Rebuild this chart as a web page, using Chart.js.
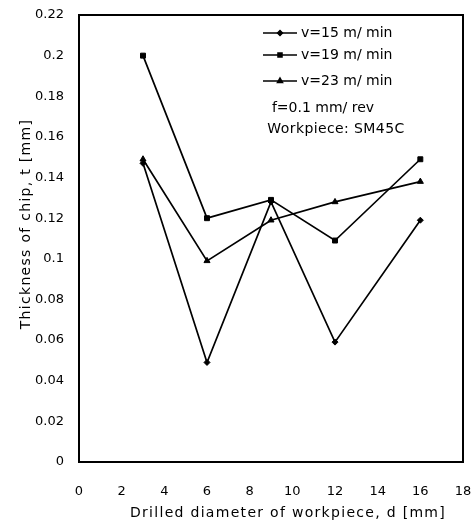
<!DOCTYPE html>
<html>
<head>
<meta charset="utf-8">
<script src="https://cdn.jsdelivr.net/npm/chart.js@4/dist/chart.umd.min.js"></script>
<style>
html,body{margin:0;padding:0;background:#fff;}
#wrap{width:474px;height:524px;}
</style>
</head>
<body>
<div id="wrap"><canvas id="c" width="474" height="524"></canvas></div>
<script>
const diameters = [3, 6, 9, 12, 16];
const v15 = [0.147, 0.049, 0.128, 0.059, 0.119];
const v19 = [0.200, 0.120, 0.129, 0.109, 0.149];
const v23 = [0.149, 0.099, 0.119, 0.128, 0.138];
const seriesNames = ['v=15 m/ min', 'v=19 m/ min', 'v=23 m/ min'];
const noteLines = ['f=0.1 mm/ rev', 'Workpiece: SM45C'];
const xTickLabels = ['0','2','4','6','8','10','12','14','16','18'];
const yTickLabels = ['0','0.02','0.04','0.06','0.08','0.1','0.12','0.14','0.16','0.18','0.2','0.22'];
const xTitle = 'Drilled diameter of workpiece, d [mm]';
const yTitle = 'Thickness of chip, t [mm]';

const FONT = '"DejaVu Sans", "Liberation Sans", Arial, sans-serif';
const styles = [
  {pointStyle:'rectRot', radius:3},
  {pointStyle:'rect', radius:3.5},
  {pointStyle:'triangle', radius:3.5}
];

function mk(vals, i){
  return {
    label: seriesNames[i],
    data: diameters.map((d,k)=>({x:d, y:vals[k]})),
    borderColor:'#000', backgroundColor:'#000',
    borderWidth:1.7, pointStyle:styles[i].pointStyle,
    pointRadius:styles[i].radius, pointBorderWidth:1,
    pointBackgroundColor:'#000', pointBorderColor:'#000',
    tension:0, fill:false
  };
}

const framePlugin = {
  id:'frame',
  afterDraw(chart){
    const {ctx, chartArea:a} = chart;
    ctx.save();
    ctx.strokeStyle='#000'; ctx.lineWidth=2;
    ctx.beginPath();
    ctx.moveTo(a.left, a.top); ctx.lineTo(a.right, a.top); ctx.lineTo(a.right, a.bottom);
    ctx.stroke();
    ctx.fillStyle = '#000';
    // axis titles
    ctx.font = '14px ' + FONT;
    ctx.letterSpacing = '1.3px';
    ctx.textAlign = 'center';
    ctx.textBaseline = 'middle';
    ctx.fillText(xTitle, 288, 513);
    ctx.save();
    ctx.translate(26, 224);
    ctx.rotate(-Math.PI/2);
    ctx.fillText(yTitle, 0, 0);
    ctx.restore();
    // legend
    const rows = [33, 55, 81];
    const lx0 = 263, lx1 = 297, tx = 301;
    ctx.letterSpacing = '0px';
    ctx.textAlign = 'left';
    chart.data.datasets.forEach((ds,i)=>{
      const y = rows[i];
      ctx.lineWidth = 1.6;
      ctx.beginPath(); ctx.moveTo(lx0,y); ctx.lineTo(lx1,y); ctx.stroke();
      Chart.helpers.drawPoint(ctx, {pointStyle:ds.pointStyle, radius:ds.pointRadius*0.8, borderWidth:1}, 280, y);
      ctx.fill();
      ctx.fillText(ds.label, tx, y);
    });
    ctx.textAlign = 'center';
    ctx.fillText(noteLines[0], 323, 108);
    ctx.letterSpacing = '0.4px';
    ctx.fillText(noteLines[1], 336, 129);
    ctx.letterSpacing = '0px';
    ctx.restore();
  }
};

new Chart(document.getElementById('c'), {
  type:'line',
  data:{datasets:[mk(v15,0), mk(v19,1), mk(v23,2)]},
  options:{
    responsive:false, animation:false,
    layout:{padding:{left:0, right:11, top:15, bottom:0}},
    plugins:{legend:{display:false}, tooltip:{enabled:false}},
    scales:{
      x:{
        type:'linear', min:0, max:18,
        grid:{display:false, drawTicks:false},
        border:{display:true, color:'#000', width:2},
        ticks:{stepSize:2, padding:22, color:'#000', font:{family:FONT, size:13},
          callback:(v,i)=>xTickLabels[i]},
        title:{display:false},
        afterFit(s){ s.height = 62; s.paddingLeft = 0; s.paddingRight = 0; }
      },
      y:{
        type:'linear', min:0, max:0.22,
        grid:{display:false, drawTicks:false},
        border:{display:true, color:'#000', width:2},
        ticks:{stepSize:0.02, padding:15, color:'#000', font:{family:FONT, size:13},
          callback:(v,i)=>yTickLabels[i]},
        title:{display:false},
        afterFit(s){ s.width = 79; s.paddingTop = 0; s.paddingBottom = 0; }
      }
    }
  },
  plugins:[framePlugin]
});
</script>
</body>
</html>
